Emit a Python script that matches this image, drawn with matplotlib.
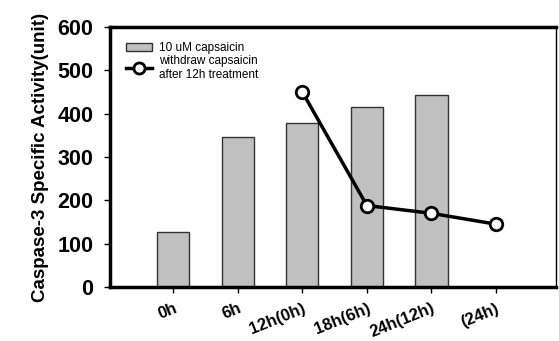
import matplotlib.pyplot as plt
from matplotlib.lines import Line2D
from matplotlib.patches import Patch

# valori
etichete = ["0h", "6h", "12h(0h)", "18h(6h)", "24h(12h)", "(24h)"]
capsaicina = [127, 346, 379, 416, 442]
retras_x = [2, 3, 4, 5]
retras = [450, 188, 170, 145]

fig = plt.figure(figsize=(5.59, 3.41), dpi=100)
ax = fig.add_axes([110 / 559, 54 / 341, 446 / 559, 260 / 341])

ax.bar(range(len(capsaicina)), capsaicina, width=0.5, color="#c0c0c0",
       edgecolor="#333333", linewidth=1.0, zorder=2)
ax.plot(retras_x, retras, "-o", color="black", linewidth=2.5, markersize=9,
        markerfacecolor="white", markeredgecolor="black", markeredgewidth=2, zorder=3)

ax.set_xlim(-0.98, 5.93)
ax.set_ylim(0, 600)
ax.set_yticks(range(0, 601, 100))
ax.set_xticks(range(len(etichete)))
ax.set_xticklabels(etichete, rotation=22, ha="right", rotation_mode="anchor",
                   fontsize=12, fontweight="bold", family="Liberation Sans")
for t in ax.get_yticklabels():
    t.set_fontsize(15.5)
    t.set_fontweight("bold")
    t.set_family("Liberation Sans")
ax.tick_params(axis="both", direction="out", length=4, width=1)
ax.tick_params(axis="y", pad=8)
ax.tick_params(axis="x", pad=6)
ax.set_ylabel("Caspase-3 Specific Activity(unit)", fontsize=13.5, fontweight="bold",
              family="Liberation Sans", labelpad=6)

for s in ["left", "bottom", "top"]:
    ax.spines[s].set_linewidth(2.5)
ax.spines["right"].set_linewidth(1.0)

handles = [Patch(facecolor="#c0c0c0", edgecolor="#333333"),
           Line2D([], [], color="black", linewidth=2.5, marker="o", markersize=8,
                  markerfacecolor="white", markeredgewidth=2)]
ax.legend(handles, ["10 uM capsaicin", "withdraw capsaicin\nafter 12h treatment"],
          loc="upper left", bbox_to_anchor=(0.02, 0.97), frameon=False,
          prop={"family": "Liberation Sans", "size": 8.5}, handlelength=2.2,
          labelspacing=0.1, handletextpad=0.6, borderaxespad=0.2)

plt.savefig("out.png", dpi=100)
plt.close()
